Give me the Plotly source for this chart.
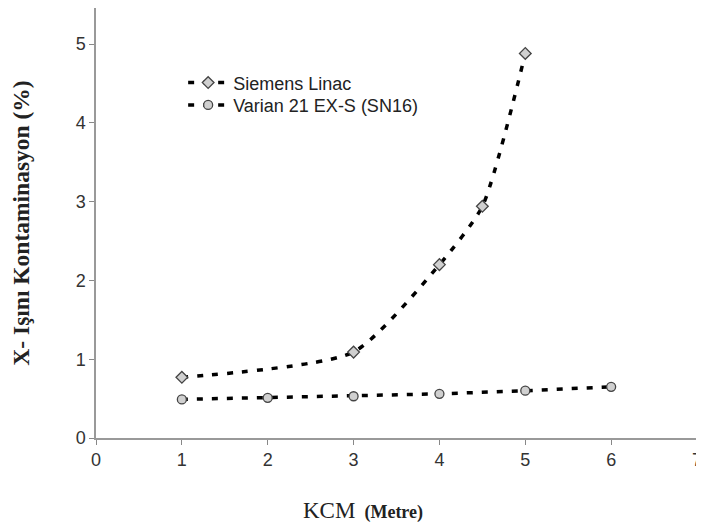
import plotly.graph_objects as go

siemens_x = [1, 3, 4, 4.5, 5]
siemens_y = [0.77, 1.09, 2.2, 2.94, 4.88]
varian_x = [1, 2, 3, 4, 5, 6]
varian_y = [0.49, 0.51, 0.53, 0.56, 0.60, 0.65]
x_ticks = [0, 1, 2, 3, 4, 5, 6, 7]
y_ticks = [0, 1, 2, 3, 4, 5]

fig = go.Figure()
fig.add_trace(go.Scatter(
    x=siemens_x, y=siemens_y, mode="lines+markers", name="Siemens Linac",
    line=dict(color="black", width=3.5, dash="6px,9px", shape="spline", smoothing=0.6),
    marker=dict(symbol="diamond", size=9, color="#d0d0d0", line=dict(color="#444", width=1.3)),
    legend="legend",
))
fig.add_trace(go.Scatter(
    x=varian_x, y=varian_y, mode="lines+markers", name="Varian 21 EX-S (SN16)",
    line=dict(color="black", width=3.5, dash="6px,9px"),
    marker=dict(symbol="circle", size=9, color="#d0d0d0", line=dict(color="#444", width=1.3)),
    legend="legend2",
))

leg_common = dict(xanchor="left", yanchor="middle", font=dict(size=18, color="#222"),
                  bgcolor="rgba(0,0,0,0)", itemwidth=40)
fig.update_layout(
    width=696, height=523,
    margin=dict(l=88, r=7, t=0, b=93),
    paper_bgcolor="white", plot_bgcolor="white",
    font=dict(family="Arial, Liberation Sans, sans-serif", color="#333"),
    legend=dict(x=0.145, y=0.826, **leg_common),
    legend2=dict(x=0.145, y=0.774, **leg_common),
    showlegend=True,
    annotations=[dict(
        x=0.445, y=-0.168, xref="paper", yref="paper", xanchor="center", yanchor="middle",
        showarrow=False,
        text="<span style='font-size:23px'>KCM</span>  <b>(Metre)</b>",
        font=dict(family="Liberation Serif, Times New Roman, serif", size=18, color="#222"),
    )],
)
fig.update_xaxes(
    range=[0, 7], tickvals=x_ticks, ticks="outside", ticklen=5, tickcolor="#888",
    showline=True, linecolor="#999", linewidth=1.5, mirror=True, showgrid=False, zeroline=False,
    tickfont=dict(size=18, color="#333"), automargin=False,
)
fig.update_yaxes(
    range=[0, 5.457], tickvals=y_ticks, ticks="outside", ticklen=5, tickcolor="#888",
    showline=True, linecolor="#999", linewidth=1.5, mirror=True, showgrid=False, zeroline=False,
    tickfont=dict(size=18, color="#333"), automargin=False,
    title=dict(text="<b>X- Işını Kontaminasyon (%)</b>",
               font=dict(family="Liberation Serif, Times New Roman, serif", size=23.5, color="#222"),
               standoff=39),
)
fig.write_html("out.html")
